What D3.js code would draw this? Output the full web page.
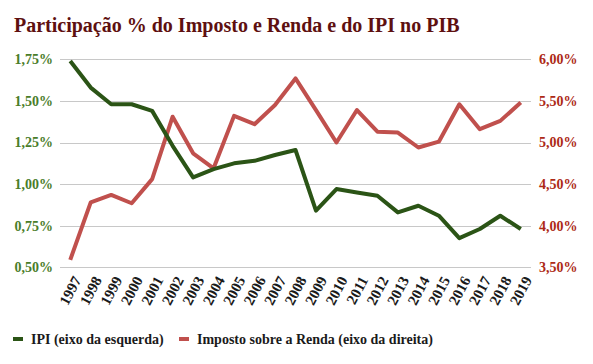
<!DOCTYPE html>
<html><head><meta charset="utf-8">
<script src="https://cdn.jsdelivr.net/npm/d3@7"></script>
<style>body{margin:0;background:#fff}svg{display:block}</style>
</head><body><svg id="c" width="593" height="364"></svg>
<script>
const years = ["1997","1998","1999","2000","2001","2002","2003","2004","2005","2006","2007","2008","2009","2010","2011","2012","2013","2014","2015","2016","2017","2018","2019"];
const ipi = [1.74,1.58,1.48,1.48,1.44,1.23,1.04,1.09,1.125,1.14,1.175,1.205,0.84,0.97,0.95,0.93,0.83,0.87,0.81,0.675,0.73,0.81,0.73];
const ir = [3.59,4.28,4.37,4.27,4.56,5.31,4.87,4.69,5.32,5.22,5.45,5.77,5.39,5.00,5.39,5.13,5.12,4.94,5.01,5.46,5.16,5.26,5.48];
const leftTicks = [0.5,0.75,1.0,1.25,1.5,1.75];
const rightTicks = [3.5,4.0,4.5,5.0,5.5,6.0];
const title = "Participação % do Imposto e Renda e do IPI no PIB";
const legendLabels = ["IPI (eixo da esquerda)","Imposto sobre a Renda (eixo da direita)"];

const svg = d3.select("#c");
const FF = '"Liberation Serif"';
const L = 60, R = 531, T = 59.3, B = 267.3;
const x = d3.scaleBand().domain(years).range([L, R]);
const yL = d3.scaleLinear().domain([0.5, 1.75]).range([B, T]);
const yR = d3.scaleLinear().domain([3.5, 6.0]).range([B, T]);
const fmt = v => d3.format(".2f")(v).replace(".", ",") + "%";
const styleText = sel => sel.style("font-family", FF).style("font-weight", "bold");

svg.append("text").attr("x", 14).attr("y", 32).text(title)
  .attr("font-size", 20).attr("fill", "#5e1010").call(styleText);

// gridlines
svg.append("g").selectAll("line").data(leftTicks).join("line")
  .attr("x1", L).attr("x2", R).attr("y1", d => Math.round(yL(d)) + 0.5).attr("y2", d => Math.round(yL(d)) + 0.5)
  .attr("stroke", "#c8c8c8").attr("stroke-width", 1);

const axL = svg.append("g").attr("transform", `translate(${L},0)`)
  .call(d3.axisLeft(yL).tickValues(leftTicks).tickFormat(fmt).tickSize(0).tickPadding(7));
axL.select(".domain").remove();
axL.selectAll("text").attr("font-size", 14).attr("fill", "#4a7d2a").call(styleText);

const axR = svg.append("g").attr("transform", `translate(${R},0)`)
  .call(d3.axisRight(yR).tickValues(rightTicks).tickFormat(fmt).tickSize(0).tickPadding(8));
axR.select(".domain").remove();
axR.selectAll("text").attr("font-size", 14).attr("fill", "#ad2a16").call(styleText);

const axB = svg.append("g").attr("transform", `translate(0,${B})`)
  .call(d3.axisBottom(x).tickSize(0).tickPadding(0));
axB.select(".domain").remove();
axB.selectAll("text").attr("font-size", 15).attr("fill", "#1a1a1a").call(styleText)
  .attr("text-anchor", "end").attr("dy", "0.35em")
  .attr("transform", "translate(7,10) rotate(-62)");

const cx = d => x(d) + x.bandwidth() / 2;
svg.append("path").datum(ir)
  .attr("d", d3.line().x((d, i) => cx(years[i])).y(d => yR(d)))
  .attr("fill", "none").attr("stroke", "#c0504d").attr("stroke-width", 4).attr("stroke-linejoin", "round");
svg.append("path").datum(ipi)
  .attr("d", d3.line().x((d, i) => cx(years[i])).y(d => yL(d)))
  .attr("fill", "none").attr("stroke", "#2b5416").attr("stroke-width", 4).attr("stroke-linejoin", "round");

// legend
const lg = [{c:"#2b5416", x:13}, {c:"#c0504d", x:179}];
lg.forEach((o, i) => {
  svg.append("rect").attr("x", o.x).attr("y", 337).attr("width", 10).attr("height", 4).attr("fill", o.c);
  svg.append("text").attr("x", o.x + 18).attr("y", 344).text(legendLabels[i])
    .attr("font-size", 14).attr("fill", "#1a1a1a").call(styleText);
});
</script></body></html>
